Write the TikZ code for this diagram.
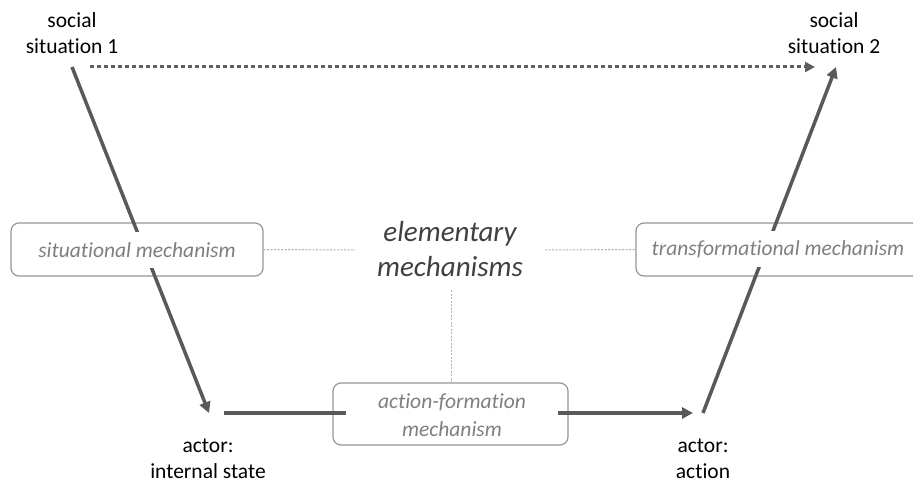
\documentclass[tikz,border=0pt]{standalone}
\usepackage{fontspec}
\setmainfont{Carlito}[Ligatures={NoCommon}]
\usetikzlibrary{arrows.meta}
\definecolor{arr}{RGB}{89,89,89}
\definecolor{dotarr}{RGB}{95,95,95}
\definecolor{boxline}{RGB}{150,150,150}
\definecolor{boxtext}{RGB}{127,127,127}
\definecolor{elemtext}{RGB}{64,64,64}
\definecolor{thinline}{RGB}{175,175,175}
\begin{document}
\begin{tikzpicture}[x=1pt,y=-1pt,
  mainarrow/.style={draw=arr, line width=3.5pt, -{Triangle[length=11pt,width=11pt]}},
  dotarrow/.style={draw=dotarr, line width=3pt, dash pattern=on 4pt off 3pt, -{Triangle[length=10pt,width=10pt]}},
  thindot/.style={draw=thinline, line width=1pt, dash pattern=on 2pt off 1.5pt},
  mechbox/.style={draw=boxline, line width=1.2pt, rounded corners=8pt, inner sep=0pt},
  mechtext/.style={font=\fontsize{21.5}{28}\selectfont\itshape, text=boxtext, fill=white, inner sep=0pt, align=center},
  label/.style={font=\fontsize{21.5}{26}\selectfont, text=black, inner sep=0pt, align=center},
  elemstyle/.style={font=\fontsize{29}{35}\selectfont\itshape, text=elemtext, inner sep=0pt, align=center}
]
\useasboundingbox (0,0) rectangle (913,484);
\fill[white] (0,0) rectangle (913,484);

% box frames
\node[mechbox, minimum width=252pt, minimum height=53pt] (sitbox) at (137,249.5) {};
\node[mechbox, minimum width=284pt, minimum height=53pt] (trbox) at (778,249.5) {};
\node[mechbox, minimum width=235pt, minimum height=62pt] (afbox) at (450.5,414) {};

% labels
\node[label] (s1) at (72,33) {social\\situation 1};
\node[label] (s2) at (834,33) {social\\situation 2};
\node[label] (is) at (208,459) {actor:\\internal state};
\node[label] (ac) at (703,459) {actor:\\action};
\node[elemstyle] (elem) at (450,249) {elementary\\mechanisms};

% connector end points
\coordinate (s1a) at (72,67);
\coordinate (isa) at (209,413);
\coordinate (isb) at (224,413);
\coordinate (aca) at (693,413);
\coordinate (acb) at (703,413);
\coordinate (s2a) at (836,67);
\coordinate (d1) at (90,67);
\coordinate (d2) at (815,67);
\coordinate (eL) at (355,250);
\coordinate (eR) at (545,250);
\coordinate (eB) at (451,290);

% thin dotted links
\draw[thindot] (sitbox.east) -- (eL);
\draw[thindot] (eR) -- (trbox.west);
\draw[thindot] (eB) -- (eB |- afbox.north);

% arrows
\draw[dotarrow] (d1) -- (d2);
\draw[mainarrow] (s1a) -- (isa);
\draw[mainarrow] (isb) -- (aca);
\draw[mainarrow] (acb) -- (s2a);

% box texts (white backing hides the arrows inside)
\node[mechtext, minimum height=36pt] (sitlab) at (137,250) {situational mechanism};
\node[mechtext, minimum height=36pt] (trlab) at (778,249) {transformational mechanism};
\node[mechtext, minimum width=212pt, minimum height=54pt] (aflab) at (452,415) {action-formation\\mechanism};
\end{tikzpicture}
\end{document}
